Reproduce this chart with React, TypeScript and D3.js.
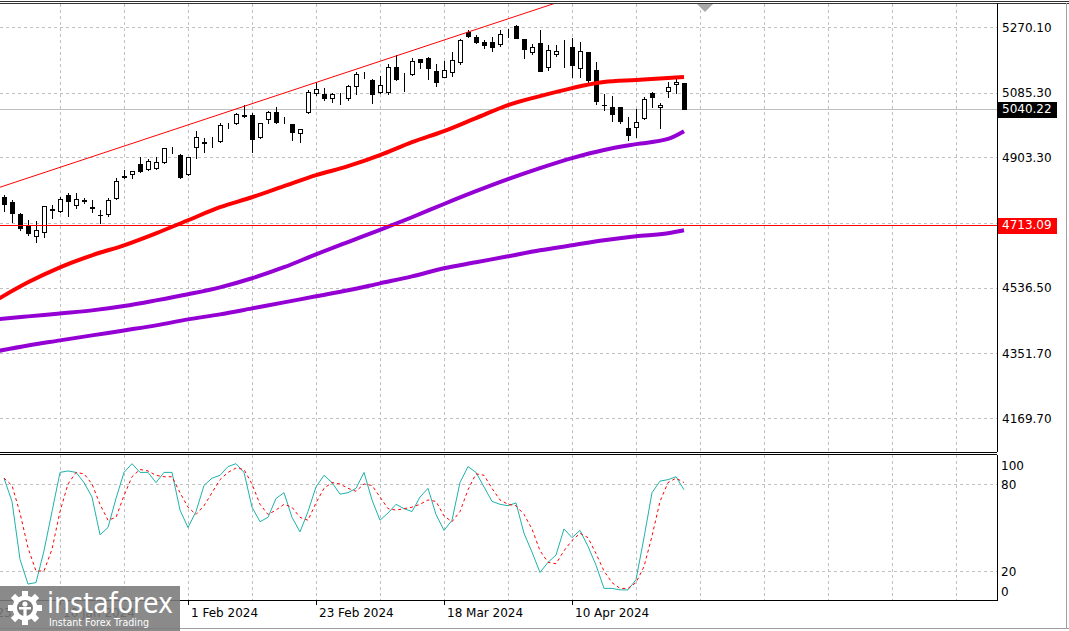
import React from "react";
import * as d3 from "d3";

// ---- Candles (daily, 29 Dec 2023 .. 30 Apr 2024) ----
const opens = [4791.0,4776.9,4743.1,4712.1,4681.1,4692.4,4756.0,4751.6,4796.7,4768.5,4782.6,4763.0,4741.0,4743.1,4788.2,4849.0,4855.9,4884.0,4870.0,4872.8,4889.7,4924.0,4909.4,4855.9,4931.9,4945.0,4948.0,4948.9,4993.0,4999.6,5021.0,5022.1,4960.1,5010.8,5030.6,5010.0,4996.8,4971.4,5030.6,5084.1,5081.3,5070.0,5072.0,5070.0,5103.8,5131.0,5120.7,5086.9,5086.9,5157.4,5123.0,5137.7,5179.9,5182.7,5146.1,5129.2,5143.3,5171.5,5256.0,5241.9,5227.8,5227.8,5222.2,5244.0,5272.9,5236.3,5199.7,5225.0,5157.4,5194.0,5205.0,5213.7,5154.6,5199.7,5148.9,5051.0,5044.7,5044.7,4985.5,4988.3,5013.7,5084.1,5044.7,5089.7,5109.5,5112.3];
const highs = [4796.7,4782.6,4745.9,4726.2,4723.4,4767.0,4768.5,4791.0,4802.3,4802.3,4788.2,4782.6,4754.4,4788.2,4844.6,4867.1,4866.0,4903.8,4898.1,4903.8,4930.0,4931.9,4912.2,4905.0,4977.0,4957.3,4960.1,4999.6,4999.6,5027.7,5050.3,5027.7,5001.0,5033.4,5044.7,5016.5,4998.0,4984.0,5092.6,5115.1,5098.2,5084.1,5084.1,5106.7,5143.3,5143.3,5123.6,5132.0,5165.8,5191.2,5140.5,5182.7,5181.0,5185.6,5165.8,5174.3,5199.7,5236.0,5261.6,5247.6,5233.5,5241.9,5261.6,5264.5,5275.7,5237.0,5222.2,5261.6,5219.4,5219.4,5233.5,5239.1,5227.8,5201.0,5171.5,5081.3,5075.6,5046.0,5016.5,5039.0,5072.8,5086.9,5055.9,5115.1,5123.6,5113.0];
const lows = [4751.6,4720.6,4698.0,4686.0,4664.2,4678.3,4731.8,4748.8,4737.5,4760.0,4774.1,4748.8,4717.8,4737.5,4785.4,4844.6,4844.6,4863.0,4867.1,4870.0,4886.9,4915.0,4845.0,4853.0,4900.9,4917.8,4931.9,4947.0,4985.5,4996.8,5016.5,4917.8,4957.3,4999.6,4999.6,4999.6,4951.7,4946.0,5029.0,5078.5,5064.4,5058.7,5053.1,5064.4,5081.3,5126.4,5055.9,5085.0,5081.3,5122.0,5089.7,5134.8,5154.6,5123.6,5103.8,5128.0,5132.0,5165.8,5241.9,5225.0,5210.9,5202.5,5216.6,5241.9,5238.0,5182.7,5194.0,5145.0,5148.9,5188.4,5157.4,5129.2,5129.2,5109.5,5053.1,5036.2,5005.2,4999.6,4951.7,4960.1,5010.8,5044.7,4985.5,5072.8,5084.1,5040.0];
const closes = [4771.3,4745.9,4703.7,4689.6,4698.0,4765.7,4758.0,4785.4,4779.8,4785.4,4779.8,4762.0,4740.0,4782.6,4836.1,4851.0,4864.3,4864.3,4892.5,4889.7,4929.1,4925.0,4847.4,4903.8,4960.1,4947.0,4949.0,4993.9,4995.0,5024.9,5022.0,4954.5,4999.6,5030.6,5002.4,5011.0,4974.2,4982.7,5086.9,5095.4,5070.0,5081.3,5073.0,5103.8,5137.7,5132.0,5081.3,5106.7,5157.4,5123.6,5124.0,5174.3,5171.5,5154.6,5115.1,5148.9,5177.1,5233.5,5244.7,5227.8,5219.4,5213.7,5250.4,5245.0,5239.1,5208.1,5213.7,5146.1,5205.3,5202.5,5206.0,5163.0,5202.5,5120.7,5061.6,5050.0,5024.9,5005.2,4965.8,5002.4,5067.2,5072.8,5050.3,5101.0,5115.1,5040.22];

// ---- Moving averages (read every 4th bar) ----
const maIdx = [-1,3,7,11,15,19,23,27,31,35,39,43,47,51,55,59,63,67,71,75,79,83,85];
const maRed = [4500.8,4551.5,4593.8,4627.6,4655.8,4689.6,4726.2,4762.9,4791.0,4822.0,4853.0,4878.4,4909.4,4946.0,4977.0,5013.7,5050.3,5075.7,5098.2,5115.1,5120.7,5126.4,5129.2];
const maPurple1 = [4447.2,4455.7,4464.1,4472.6,4485.0,4500.8,4518.0,4537.4,4563.0,4594.0,4630.4,4665.0,4699.0,4734.7,4772.0,4807.9,4841.8,4872.8,4901.0,4924.0,4940.4,4955.0,4977.0];
const maPurple2 = [4357.1,4374.0,4388.1,4402.2,4416.2,4430.3,4447.2,4461.3,4478.2,4495.1,4512.1,4529.0,4548.7,4568.4,4591.0,4607.9,4624.8,4641.7,4655.8,4669.9,4681.1,4689.6,4698.0];

// ---- Stochastic ----
const stochK = [84,68,28,11,12,34,61,88,89,88,81,71,45,50,70,88,94,88,88,81,88,88,62,50,61,79,84,86,92,94,88,64,54,57,70,74,57,47,61,78,86,81,73,74,77,88,69,55,60,66,63,61,71,77,59,48,55,81,92,88,78,68,66,65,67,46,33,19,26,31,49,43,48,37,24,8,8,7,7,14,43,74,82,83,85,76];
const stochD = [84,79,60,36,20,20,35,61,80,88,87,80,66,55,57,72,85,90,89,86,85,85,74,64,59,65,74,83,88,91,90,80,66,59,62,66,64,57,55,67,77,81,80,77,75,80,79,71,63,62,63,64,66,69,68,58,54,61,76,87,86,77,69,66,65,59,49,34,26,25,34,41,46,43,32,20,12,8,8,12,23,44,68,81,84,81];
const stochLevels = [80, 20];
const stochAxisLabels = [100, 80, 20, 0];

// ---- Axes / objects ----
const priceTicks = [5270.10, 5085.30, 4903.30, 4719.00, 4536.50, 4351.70, 4169.70];
const priceTickLabels = ["5270.10", "5085.30", "4903.30", "", "4536.50", "4351.70", "4169.70"];
const lastPrice = 5040.22;
const levelPrice = 4713.09;
const trendIdx = [0, 68];
const trendPrice = [4822.9, 5330.4];
const timeLabelIdx = [-9, 7, 23, 39, 55, 71];
const timeLabels = ["15 Dec 2023", "10 Jan 2024", "1 Feb 2024", "23 Feb 2024", "18 Mar 2024", "10 Apr 2024"];
const gridIdx = [-1, 7, 15, 23, 31, 39, 47, 55, 63, 71, 79, 87, 95, 103, 111, 119];

const W = 1069, H = 631;
const PR = 997; // plot right edge
const MAIN_TOP = 4, MAIN_BOT = 452;
const ST_TOP = 455, ST_BOT = 600;

export default function App() {
  React.useEffect(() => {
    document.body.style.margin = "0";
  }, []);

  const x = d3.scaleLinear().domain([0, 1]).range([4, 12]);
  const y = d3.scaleLinear().domain([4169.7, 5270.1]).range([418, 27]);
  const ys = d3.scaleLinear().domain([0, 100]).range([ST_BOT, ST_TOP]);

  const maLine = d3
    .line<{ i: number; v: number }>()
    .x((d) => x(d.i))
    .y((d) => y(d.v))
    .curve(d3.curveMonotoneX);
  const mk = (arr: number[]) => arr.map((v, k) => ({ i: maIdx[k], v }));

  const stLine = d3
    .line<number>()
    .x((_, i) => x(i))
    .y((d) => ys(d));

  // trendline extended
  const slope = (trendPrice[1] - trendPrice[0]) / (trendIdx[1] - trendIdx[0]);
  const tA = -1, tB = 80;
  const tpA = trendPrice[0] + slope * (tA - trendIdx[0]);
  const tpB = trendPrice[0] + slope * (tB - trendIdx[0]);

  const font = "DejaVu Sans, Verdana, sans-serif";
  const grid = "#C0C0C0";

  const candles = opens.map((o, i) => {
    const c = closes[i];
    const cx = Math.round(x(i));
    const top = Math.round(y(Math.max(o, c)));
    const bot = Math.round(y(Math.min(o, c)));
    const hy = Math.round(y(highs[i]));
    const ly = Math.round(y(lows[i]));
    const bull = c >= o;
    return (
      <g key={i}>
        <rect x={cx} y={hy} width={1} height={Math.max(1, ly - hy + 1)} fill="#000" />
        {bull ? (
          <rect x={cx - 2 + 0.5} y={top + 0.5} width={4} height={Math.max(0, bot - top)} fill="#fff" stroke="#000" strokeWidth={1} />
        ) : (
          <rect x={cx - 2} y={top} width={5} height={Math.max(1, bot - top + 1)} fill="#000" />
        )}
      </g>
    );
  });

  const levelY = Math.round(y(levelPrice));
  const lastY = Math.round(y(lastPrice));

  return (
    <svg width={W} height={H} style={{ display: "block", position: "absolute", left: 0, top: 0 }} fontFamily={font}>
      <defs>
        <clipPath id="mainClip">
          <rect x={0} y={MAIN_TOP} width={PR} height={MAIN_BOT - MAIN_TOP} />
        </clipPath>
        <clipPath id="stClip">
          <rect x={0} y={ST_TOP} width={PR} height={ST_BOT - ST_TOP} />
        </clipPath>
      </defs>
      <rect x={0} y={0} width={W} height={H} fill="#fff" />

      {/* main panel */}
      <g clipPath="url(#mainClip)">
        {gridIdx.map((g) => (
          <line key={"gv" + g} x1={Math.round(x(g)) + 0.5} x2={Math.round(x(g)) + 0.5} y1={MAIN_TOP} y2={MAIN_BOT} stroke={grid} strokeDasharray="3,3" />
        ))}
        {priceTicks.map((p) => (
          <line key={"gh" + p} x1={0} x2={PR} y1={Math.round(y(p)) + 0.5} y2={Math.round(y(p)) + 0.5} stroke={grid} strokeDasharray="3,3" />
        ))}
        <rect x={0} y={lastY} width={PR} height={1} fill="#C0C0C0" />
        {candles}
        <path d={maLine(mk(maPurple2)) || ""} fill="none" stroke="#9400D3" strokeWidth={4} strokeLinejoin="round" />
        <path d={maLine(mk(maPurple1)) || ""} fill="none" stroke="#9400D3" strokeWidth={4} strokeLinejoin="round" />
        <path d={maLine(mk(maRed)) || ""} fill="none" stroke="#FF0000" strokeWidth={4} strokeLinejoin="round" />
        <rect x={0} y={levelY} width={PR} height={1} fill="#FF0000" />
        <line x1={x(tA)} y1={y(tpA)} x2={x(tB)} y2={y(tpB)} stroke="#FF0000" strokeWidth={1} />
        <path d="M697,4 L713,4 L705,12 Z" fill="#A9A9A9" />
      </g>

      {/* stochastic panel */}
      <g clipPath="url(#stClip)">
        {gridIdx.map((g) => (
          <line key={"sv" + g} x1={Math.round(x(g)) + 0.5} x2={Math.round(x(g)) + 0.5} y1={ST_TOP} y2={ST_BOT} stroke={grid} strokeDasharray="3,3" />
        ))}
        {stochLevels.map((v) => (
          <line key={"sl" + v} x1={0} x2={PR} y1={Math.round(ys(v)) + 0.5} y2={Math.round(ys(v)) + 0.5} stroke={grid} strokeDasharray="3,3" />
        ))}
        <path d={stLine(stochK) || ""} fill="none" stroke="#20B2AA" strokeWidth={1} />
        <path d={stLine(stochD) || ""} fill="none" stroke="#FF0000" strokeWidth={1} strokeDasharray="3,3" />
      </g>

      {/* frames */}
      <line x1={0} x2={W} y1={1.5} y2={1.5} stroke="#333" />
      <line x1={0} x2={W} y1={3.5} y2={3.5} stroke="#333" />
      <line x1={0} x2={PR} y1={452.5} y2={452.5} stroke="#000" />
      <line x1={0} x2={PR} y1={454.5} y2={454.5} stroke="#000" />
      <line x1={0} x2={PR + 1} y1={600.5} y2={600.5} stroke="#000" />
      <line x1={PR + 0.5} x2={PR + 0.5} y1={3} y2={452} stroke="#000" />
      <line x1={PR + 0.5} x2={PR + 0.5} y1={455} y2={601} stroke="#000" />
      <line x1={0} x2={W} y1={628.5} y2={628.5} stroke="#A0A0A0" />
      <line x1={W - 2.5} x2={W - 2.5} y1={3} y2={629} stroke="#A0A0A0" />

      {/* price axis labels */}
      {priceTicks.map((p, k) =>
        priceTickLabels[k] ? (
          <text key={"pl" + p} x={1002} y={y(p) + 4.5} fontSize={12} fill="#000">
            {priceTickLabels[k]}
          </text>
        ) : null
      )}
      <rect x={998} y={lastY - 7} width={59} height={16} fill="#000" />
      <text x={1002} y={y(lastPrice) + 4.5} fontSize={12} fill="#fff">
        {lastPrice.toFixed(2)}
      </text>
      <rect x={998} y={levelY - 7} width={59} height={16} fill="#FF0000" />
      <text x={1002} y={y(levelPrice) + 4.5} fontSize={12} fill="#fff">
        {levelPrice.toFixed(2)}
      </text>

      {/* stochastic axis labels */}
      {stochAxisLabels.map((v) => (
        <text key={"st" + v} x={1001} y={Math.min(Math.max(ys(v), 465), 591) + 4.5} fontSize={12} fill="#000">
          {v}
        </text>
      ))}

      {/* time axis */}
      {timeLabelIdx.map((t, k) => (
        <g key={"tl" + t}>
          <line x1={Math.round(x(t)) + 0.5} x2={Math.round(x(t)) + 0.5} y1={601} y2={605} stroke="#000" />
          <text x={x(t) + 3} y={617} fontSize={12} fill="#000">
            {timeLabels[k]}
          </text>
        </g>
      ))}

      {/* watermark logo */}
      <g>
        <rect x={0} y={586} width={180} height={45} fill="#7A7A7A" opacity={0.88} />
        <g transform="translate(25,608)">
          {d3.range(8).map((k) => (
            <rect key={k} x={-3} y={-17} width={6} height={7} fill="#fff" transform={`rotate(${k * 45})`} />
          ))}
          <circle r={12.5} fill="#fff" />
          <circle r={8} fill="#7A7A7A" />
          <circle cx={0} cy={-4} r={2.6} fill="#fff" />
          <rect x={-1.6} y={-1} width={3.2} height={14} fill="#fff" />
          <rect x={-6} y={-1} width={12} height={2.5} fill="#fff" />
        </g>
        <text x={47} y={613} fontSize={28} fill="#fff" textLength={126} lengthAdjust="spacingAndGlyphs">
          instaforex
        </text>
        <text x={49} y={626} fontSize={11} fill="#fff" textLength={100} lengthAdjust="spacingAndGlyphs">
          Instant Forex Trading
        </text>
      </g>
    </svg>
  );
}
